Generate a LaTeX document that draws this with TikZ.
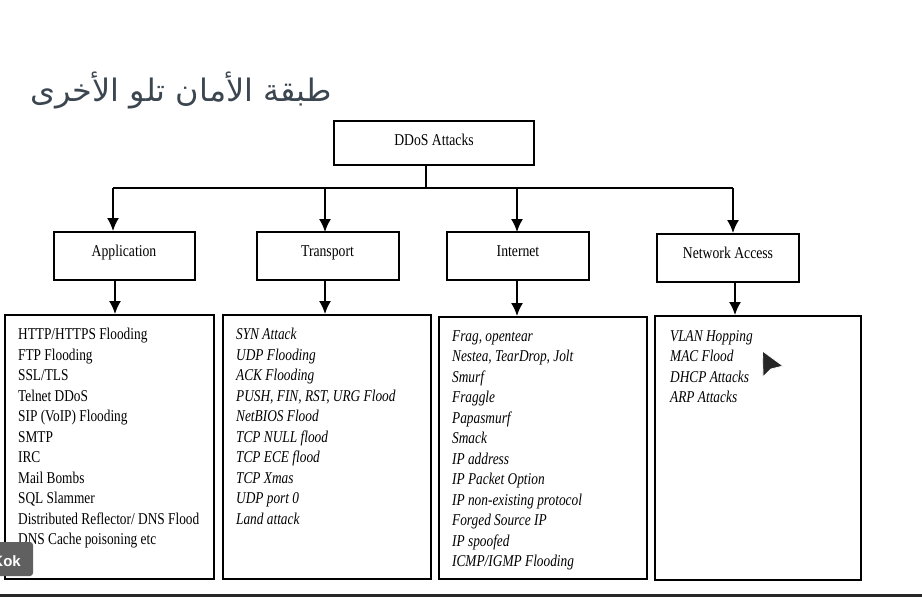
\documentclass[tikz,border=0pt]{standalone}
\usepackage{fontspec}
\usetikzlibrary{arrows.meta}
\setmainfont{Liberation Serif}
\newfontfamily\arabicfont[Script=Arabic]{DejaVu Sans}
\newfontfamily\badgefont{Liberation Sans}
\TeXXeTstate=1
\definecolor{titlecol}{HTML}{3B4650}
\tikzset{
  x=1pt,y=-1pt,
  boxed/.style={draw=black,line width=2pt,minimum width=#1,inner sep=0pt,anchor=north west},
  head/.style={font=\fontsize{16.5}{18}\selectfont,inner sep=0pt,xscale=.83},
  listing/.style={anchor=north west,inner sep=0pt,align=left,xscale=.808,font=\fontsize{16.5}{20.5}\selectfont},
  italiclisting/.style={listing,font=\itshape\fontsize{16.5}{20.5}\selectfont},
  link/.style={line width=1.7pt},
  arrow/.style={line width=1.5pt,-{Latex[length=13pt,width=12pt]}},
}
\begin{document}
\begin{tikzpicture}
\useasboundingbox (0,0) rectangle (922,597);
\clip (0,0) rectangle (922,597);
\node[anchor=base,inner sep=0pt,text=titlecol,font=\arabicfont\fontsize{31}{36}\selectfont,xscale=1.03] (title) at (181,101) {\beginR طبقة الأمان تلو الأخرى\endR};

\node[boxed=200pt,minimum height=44pt] (ddos) at (333,120) {};
\node[boxed=141pt,minimum height=48pt] (app) at (53,231) {};
\node[boxed=142pt,minimum height=48pt] (trans) at (255.5,231) {};
\node[boxed=142pt,minimum height=48pt] (inet) at (446,231) {};
\node[boxed=142pt,minimum height=48pt] (net) at (656,233) {};

\node[head] (ddost) at (434,140) {DDoS Attacks};
\node[head] (appt) at (124,252.5) {Application};
\node[head] (transt) at (327.5,252.5) {Transport};
\node[head] (inett) at (518,251) {Internet};
\node[head] (nett) at (728,253) {Network Access};

\node[boxed=209pt,minimum height=264pt] (l1) at (3.5,314) {};
\node[boxed=208pt,minimum height=264pt] (l2) at (222,314) {};
\node[boxed=208pt,minimum height=262pt] (l3) at (438,316) {};
\node[boxed=206pt,minimum height=264pt] (l4) at (654,315) {};

\node[listing] (l1t) at (18,328) {HTTP/HTTPS Flooding\\FTP Flooding\\SSL/TLS\\Telnet DDoS\\SIP (VoIP) Flooding\\SMTP\\IRC\\Mail Bombs\\SQL Slammer\\Distributed Reflector/ DNS Flood\\DNS Cache poisoning etc};
\node[italiclisting] (l2t) at (236,328) {SYN Attack\\UDP Flooding\\ACK Flooding\\PUSH, FIN, RST, URG Flood\\NetBIOS Flood\\TCP NULL flood\\TCP ECE flood\\TCP Xmas\\UDP port 0\\Land attack};
\node[italiclisting] (l3t) at (452,330) {Frag, opentear\\Nestea, TearDrop, Jolt\\Smurf\\Fraggle\\Papasmurf\\Smack\\IP address\\IP Packet Option\\IP non-existing protocol\\Forged Source IP\\IP spoofed\\ICMP/IGMP Flooding};
\node[italiclisting] (l4t) at (670,330) {VLAN Hopping\\MAC Flood\\DHCP Attacks\\ARP Attacks};

\coordinate (bus) at (426,188);
\coordinate (busl) at (113,188);
\coordinate (busr) at (733,188);
\draw[link] (ddos.south -| bus) -- (bus);
\draw[link] (busl) -- (busr);
\draw[arrow] (busl) -- (busl |- app.north);
\draw[arrow] (325,188) -- (325,232);
\draw[arrow] (517,188) -- (517,232);
\draw[arrow] (busr) -- (busr |- net.north);
\draw[arrow] (115,281) -- (115,314);
\draw[arrow] (325,281) -- (325,314);
\draw[arrow] (517,281) -- (517,316);
\draw[arrow] (735,283) -- (735,315);

\fill[black!85] (0,593.5) rectangle (922,597);
\fill[fill=gray!75!black,rounded corners=3pt] (-8,542) rectangle (33,576);
\node[anchor=base east,inner sep=0pt,text=white,font=\badgefont\bfseries\fontsize{15}{18}\selectfont] (badge) at (21,566) {Kok};
\fill[black!85,draw=white,line width=.8pt,line join=round] (762.5,351) -- (783,366) -- (771,369) -- (763,377) -- cycle;
\end{tikzpicture}
\end{document}
